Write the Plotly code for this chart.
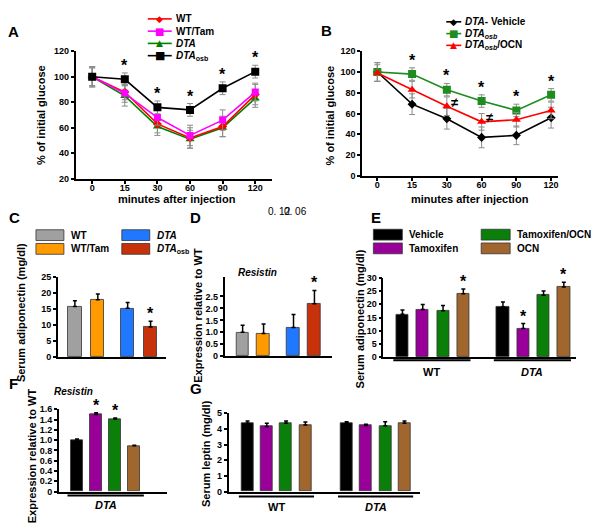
import plotly.graph_objects as go

# The page body has an 8px margin; the figure is sized to fill the rest of the window
OFF = 8
W, H = 600 - OFF, 528 - OFF
FONT = "Liberation Sans, Arial, sans-serif"


def px(x):
    return (x - OFF) / W


def py(y):
    return 1 - (y - OFF) / H


# ---------------- data ----------------
time_labels = ["0", "15", "30", "60", "90", "120"]

# Panel A (% of initial glucose)
a_names = ["WT", "WT/Tam", "<i>DTA</i>", "<i>DTA</i><sub>osb</sub>"]
a_wt = [100, 88, 63, 52, 61, 86]
a_wt_err = [8, 6, 7, 8, 8, 8]
a_wttam = [100, 87, 68, 54, 66, 88]
a_wttam_err = [7, 7, 6, 8, 8, 7]
a_dta = [100, 85, 61, 51, 60, 83]
a_dta_err = [7, 8, 7, 7, 7, 7]
a_osb = [100, 98, 76, 74, 91, 104]
a_osb_err = [8, 5, 5, 5, 5, 5]
a_star = [False, True, True, True, True, True]

# Panel B
b_names = ["<i>DTA</i>- Vehicle", "<i>DTA<sub>osb</sub></i>", "<i>DTA<sub>osb</sub></i>/OCN"]
b_veh = [100, 69, 55, 37, 39, 56]
b_veh_err = [9, 10, 10, 10, 9, 10]
b_osb = [100, 98, 83, 72, 63, 78]
b_osb_err = [9, 6, 6, 6, 6, 6]
b_ocn = [99, 83, 67, 52, 54, 63]
b_ocn_err = [8, 8, 9, 8, 7, 8]
b_star = [False, True, True, True, True, True]
b_neq = [False, False, True, True, False, False]

# Panel C (serum adiponectin)
c_names = ["WT", "WT/Tam", "<i>DTA</i>", "<i>DTA</i><sub>osb</sub>"]
c_vals = [15.8, 17.9, 15.2, 9.4]
c_err = [1.8, 1.8, 1.8, 1.8]
c_star = [False, False, False, True]

# Panel D (Resistin expression)
d_vals = [1.0, 0.95, 1.2, 2.2]
d_err = [0.3, 0.4, 0.55, 0.55]
d_star = [False, False, False, True]

# Panel E (serum adiponectin, treatments)
e_groups = ["WT", "<i>DTA</i>"]
e_treat = ["Vehicle", "Tamoxifen", "Tamoxifen/OCN", "OCN"]
e_vehicle = [16.2, 19.1]
e_vehicle_err = [1.6, 1.8]
e_tam = [18.0, 10.9]
e_tam_err = [1.9, 1.8]
e_tamocn = [17.6, 23.4]
e_tamocn_err = [1.9, 1.6]
e_ocn = [24.0, 26.5]
e_ocn_err = [1.8, 1.8]
e_star_vehicle = [False, False]
e_star_tam = [False, True]
e_star_tamocn = [False, False]
e_star_ocn = [True, True]

# Panel F (Resistin, DTA)
f_vals = [1.0, 1.5, 1.41, 0.89]
f_err = [0.02, 0.03, 0.02, 0.01]
f_star = [False, True, True, False]

# Panel G (serum leptin)
g_vehicle = [4.35, 4.35]
g_vehicle_err = [0.15, 0.1]
g_tam = [4.15, 4.22]
g_tam_err = [0.2, 0.08]
g_tamocn = [4.35, 4.2]
g_tamocn_err = [0.15, 0.25]
g_ocn = [4.25, 4.35]
g_ocn_err = [0.18, 0.15]

# ---------------- styles ----------------
C_GRAY, C_ORANGE, C_BLUE, C_RUST = "#A0A0A0", "#FF9B00", "#1F78FF", "#C8320A"
C_BLACK, C_PURPLE, C_GREEN, C_BROWN = "#000000", "#990099", "#0A800A", "#A0662E"
c_colors = [C_GRAY, C_ORANGE, C_BLUE, C_RUST]
t_colors = [C_BLACK, C_PURPLE, C_GREEN, C_BROWN]

fig = go.Figure()
annotations = []
shapes = []


def axis_common():
    return dict(showgrid=False, zeroline=False, showline=True, linecolor="black",
                linewidth=2, ticks="outside", ticklen=3, tickwidth=1.5,
                tickcolor="black",
                tickfont=dict(family=FONT, size=9, color="black", weight="bold"))


def set_axes(n, xdom, ydom, xrange, yrange, xkw=None, ykw=None):
    xs = "xaxis" if n == 1 else f"xaxis{n}"
    ys = "yaxis" if n == 1 else f"yaxis{n}"
    xa = axis_common()
    xa.update(domain=[px(xdom[0]), px(xdom[1])], range=xrange,
              anchor="y" if n == 1 else f"y{n}")
    ya = axis_common()
    ya.update(domain=[py(ydom[1]), py(ydom[0])], range=yrange,
              anchor="x" if n == 1 else f"x{n}")
    if xkw:
        xa.update(xkw)
    if ykw:
        ya.update(ykw)
    fig.update_layout({xs: xa, ys: ya})


def ref(n):
    return ("x", "y") if n == 1 else (f"x{n}", f"y{n}")


def text(x, y, s, size=11, xanchor="center", yanchor="middle", angle=0,
         bold=True, xref="paper", yref="paper", xshift=0, yshift=0):
    annotations.append(dict(x=x, y=y, xref=xref, yref=yref, text=s, showarrow=False,
                            xanchor=xanchor, yanchor=yanchor, textangle=angle,
                            xshift=xshift, yshift=yshift,
                            font=dict(family=FONT, size=size, color="black",
                                      weight="bold" if bold else "normal")))


def star(n, x, y, size=16):
    xr, yr = ref(n)
    text(x, y, "*", size=size, yanchor="bottom", xref=xr, yref=yr, yshift=-3)


def line_series(n, y, err, color, symbol, msize):
    xr, yr = ref(n)
    fig.add_trace(go.Scatter(
        x=list(range(len(y))), y=y, mode="lines+markers", xaxis=xr, yaxis=yr,
        line=dict(color=color, width=1.6),
        marker=dict(symbol=symbol, size=msize, color=color),
        error_y=dict(type="data", array=err, color="#8C8C8C", thickness=1, width=3),
        showlegend=False))


def bars(n, xpos, vals, err, colors, width):
    xr, yr = ref(n)
    fig.add_trace(go.Bar(
        x=xpos, y=vals, width=width, xaxis=xr, yaxis=yr,
        marker=dict(color=colors, line=dict(color="#333333", width=0.8)),
        error_y=dict(type="data", array=err, arrayminus=[0] * len(err),
                     symmetric=False, color="black", thickness=1.5, width=2),
        showlegend=False))


# ---------------- Panel A ----------------
set_axes(1, (76, 272), (47, 177), [-0.5, 5.5], [20, 120],
         xkw=dict(tickvals=list(range(6)), ticktext=time_labels, ticklabelstandoff=-4),
         ykw=dict(tickvals=[20, 40, 60, 80, 100, 120]))
line_series(1, a_dta, a_dta_err, "#008000", "triangle-up", 8)
line_series(1, a_wt, a_wt_err, "#FF0000", "diamond", 7)
line_series(1, a_wttam, a_wttam_err, "#FF00FF", "square", 7)
line_series(1, a_osb, a_osb_err, "#000000", "square", 8)
for i, s in enumerate(a_star):
    if s:
        star(1, i, a_osb[i] + a_osb_err[i])

# ---------------- Panel B ----------------
set_axes(2, (363, 559), (47, 174), [-0.43, 5.2], [0, 120],
         xkw=dict(tickvals=list(range(6)), ticktext=time_labels, ticklabelstandoff=-4),
         ykw=dict(tickvals=[0, 20, 40, 60, 80, 100, 120]))
line_series(2, b_veh, b_veh_err, "#000000", "diamond", 7)
line_series(2, b_osb, b_osb_err, "#1E8C1E", "square", 8)
line_series(2, b_ocn, b_ocn_err, "#FF0000", "triangle-up", 8)
for i, s in enumerate(b_star):
    if s:
        star(2, i, b_osb[i] + b_osb_err[i])
for i, s in enumerate(b_neq):
    if s:
        text(i, b_ocn[i], "≠", size=13, xref="x2", yref="y2", xshift=8, yshift=4)

# ---------------- Panel C ----------------
c_pos = [i + (0.3 if i >= 2 else 0) for i in range(len(c_vals))]
set_axes(3, (58, 166), (277, 359), [-0.74, 3.96], [0, 25],
         xkw=dict(ticks="", showticklabels=False, linewidth=1.5),
         ykw=dict(tickvals=[0, 5, 10, 15, 20, 25], linewidth=1.5))
bars(3, c_pos, c_vals, c_err, c_colors, 0.57)
for i, s in enumerate(c_star):
    if s:
        star(3, c_pos[i], c_vals[i] + c_err[i])

# ---------------- Panel D ----------------
d_pos = [i + (0.43 if i >= 2 else 0) for i in range(len(d_vals))]
d_ticks = [0, 0.5, 1.0, 1.5, 2.0, 2.5]
set_axes(4, (225, 333), (277, 358), [-0.86, 4.29], [0, 3.32],
         xkw=dict(ticks="", showticklabels=False, linewidth=1.5),
         ykw=dict(tickvals=d_ticks, linewidth=1.5,
                  ticktext=["0" if v == 0 else f"{v:.1f}" for v in d_ticks]))
bars(4, d_pos, d_vals, d_err, c_colors, 0.62)
for i, s in enumerate(d_star):
    if s:
        star(4, d_pos[i], d_vals[i] + d_err[i])
text(px(258), py(273), "<i>Resistin</i>", size=10)

# ---------------- Panel E ----------------
E_GAP = 0.95
e_series = [(e_vehicle, e_vehicle_err, e_star_vehicle),
            (e_tam, e_tam_err, e_star_tam),
            (e_tamocn, e_tamocn_err, e_star_tamocn),
            (e_ocn, e_ocn_err, e_star_ocn)]
set_axes(5, (384, 577), (278, 359), [-0.94, 8.55], [0, 30],
         xkw=dict(ticks="", showticklabels=False, linewidth=1.5),
         ykw=dict(tickvals=[0, 5, 10, 15, 20, 25, 30], linewidth=1.5))
for t, (vals, err, stars) in enumerate(e_series):
    pos = [g * (4 + E_GAP) + t for g in range(len(e_groups))]
    bars(5, pos, vals, err, t_colors[t], 0.6)
    for g, s in enumerate(stars):
        if s:
            star(5, pos[g], vals[g] + err[g])
for g, name in enumerate(e_groups):
    x0 = g * (4 + E_GAP) - 0.45
    x1 = g * (4 + E_GAP) + 3.35
    shapes.append(dict(type="line", xref="x5", yref="paper", x0=x0, x1=x1,
                       y0=py(362), y1=py(362), line=dict(color="black", width=2)))
    text((x0 + x1) / 2, py(374), name, size=11, xref="x5")

# ---------------- Panel F ----------------
f_ticks = [0, 0.2, 0.4, 0.6, 0.8, 1.0, 1.2, 1.4, 1.6]
set_axes(6, (59, 167), (412, 496), [-0.95, 4.7], [0, 1.6],
         xkw=dict(ticks="", showticklabels=False, linewidth=1.5),
         ykw=dict(tickvals=f_ticks, linewidth=1.5,
                  ticktext=["0" if v == 0 else f"{v:.1f}" for v in f_ticks]))
bars(6, list(range(len(f_vals))), f_vals, f_err, t_colors, 0.63)
for i, s in enumerate(f_star):
    if s:
        star(6, i, f_vals[i] + f_err[i])
shapes.append(dict(type="line", xref="x6", yref="paper", x0=-0.5, x1=3.5,
                   y0=py(500), y1=py(500), line=dict(color="black", width=2)))
text(1.5, py(510), "<i>DTA</i>", size=11, xref="x6")
text(px(74), py(394), "<i>Resistin</i>", size=10)

# ---------------- Panel G ----------------
G_GAP = 1.14
g_series = [(g_vehicle, g_vehicle_err), (g_tam, g_tam_err),
            (g_tamocn, g_tamocn_err), (g_ocn, g_ocn_err)]
set_axes(7, (229, 421), (416, 496), [-0.98, 8.96], [0, 5],
         xkw=dict(ticks="", showticklabels=False, linewidth=1.5),
         ykw=dict(tickvals=[0, 1, 2, 3, 4, 5], linewidth=1.5))
for t, (vals, err) in enumerate(g_series):
    pos = [g * (4 + G_GAP) + t for g in range(len(e_groups))]
    bars(7, pos, vals, err, t_colors[t], 0.62)
for g, name in enumerate(e_groups):
    x0 = g * (4 + G_GAP) - 0.45
    x1 = g * (4 + G_GAP) + 3.45
    shapes.append(dict(type="line", xref="x7", yref="paper", x0=x0, x1=x1,
                       y0=py(501), y1=py(501), line=dict(color="black", width=2)))
    text((x0 + x1) / 2, py(512), name, size=11, xref="x7")

# ---------------- axis titles ----------------
text(px(41), py(112), "% of initial glucose", size=11, angle=-90)
text(px(177), py(198), "minutes after injection", size=11)
text(px(331), py(112), "% of initial glucose", size=11, angle=-90)
text(px(471), py(198), "minutes after injection", size=11)
text(px(21), py(313), "Serum adiponectin (mg/dl)", size=11, angle=-90)
text(px(198), py(316), "Expression relative to WT", size=11, angle=-90)
text(px(361), py(320), "Serum adiponectin (mg/dl)", size=11, angle=-90)
text(px(32), py(459), "Expression relative to WT", size=11, angle=-90)
text(px(207), py(457), "Serum leptin (mg/dl)", size=11, angle=-90)

# ---------------- panel letters ----------------
for letter, x, y in [("A", 14, 27), ("B", 327, 26), ("C", 15, 216), ("D", 196, 216),
                     ("E", 377, 216), ("F", 14, 386), ("G", 196, 391)]:
    text(px(x), py(y), letter, size=15)

# stray p-value text
text(px(266), py(210), "0. 12", size=10, bold=False, xanchor="left")
text(px(282), py(210), "0. 06", size=10, bold=False, xanchor="left")

# ---------------- legends (drawn) ----------------
def line_legend(x0, x1, y, color, glyph, gsize, label):
    shapes.append(dict(type="line", xref="paper", yref="paper", x0=px(x0), x1=px(x1),
                       y0=py(y), y1=py(y), line=dict(color=color, width=1.6)))
    annotations.append(dict(x=px((x0 + x1) / 2), y=py(y), xref="paper", yref="paper",
                            text=glyph, showarrow=False, xanchor="center", yanchor="middle",
                            font=dict(family="DejaVu Sans", size=gsize, color=color)))
    text(px(x1 + 2), py(y), label, size=10, xanchor="left")


a_leg_colors = ["#FF0000", "#FF00FF", "#008000", "#000000"]
a_leg_glyph = [("◆", 9), ("■", 10), ("▲", 9), ("■", 11)]
for k, name in enumerate(a_names):
    line_legend(148, 172, 14 + 12.5 * k, a_leg_colors[k], a_leg_glyph[k][0],
                a_leg_glyph[k][1], name)

b_leg_colors = ["#000000", "#1E8C1E", "#FF0000"]
b_leg_glyph = [("◆", 9), ("■", 10), ("▲", 9)]
for k, name in enumerate(b_names):
    line_legend(447, 462, 17 + 12 * k, b_leg_colors[k], b_leg_glyph[k][0],
                b_leg_glyph[k][1], name)


def box_legend(x0, x1, y, color, label):
    shapes.append(dict(type="rect", xref="paper", yref="paper", x0=px(x0), x1=px(x1),
                       y0=py(y + 5.5), y1=py(y - 5.5), fillcolor=color,
                       line=dict(color="#333333", width=0.8)))
    text(px(x1 + 5), py(y), label, size=10, xanchor="left")


for k, name in enumerate(c_names):
    col, row = divmod(k, 2)
    box_legend(36 + 86 * col, 64 + 86 * col, 234.5 + 14 * row, c_colors[k], name)

for k, name in enumerate(e_treat):
    col, row = divmod(k, 2)
    box_legend(374 + 108 * col, 403 + 108 * col, 234 + 14 * row, t_colors[k], name)

fig.update_layout(
    width=W, height=H, autosize=False,
    margin=dict(l=0, r=0, t=0, b=0),
    paper_bgcolor="white", plot_bgcolor="white",
    font=dict(family=FONT, color="black"),
    showlegend=False, bargap=0,
    annotations=annotations, shapes=shapes,
)

fig.write_html("out.html")
